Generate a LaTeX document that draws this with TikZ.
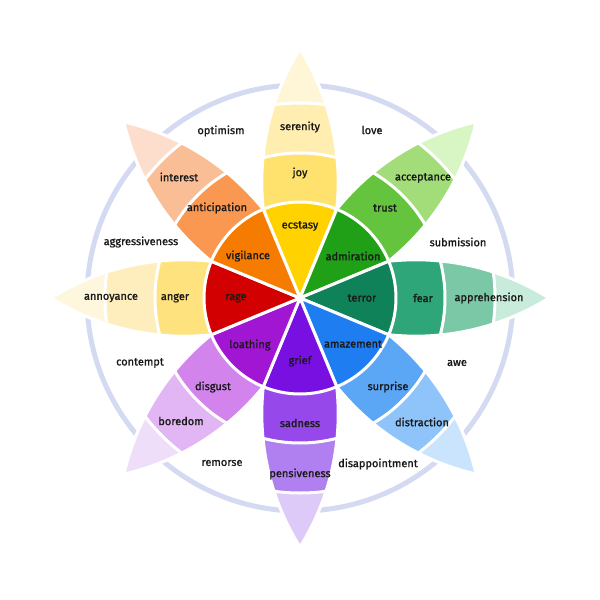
\documentclass[tikz,border=0pt]{standalone}
\usepackage{fontspec}
\setmainfont{Fira Sans}
\newfontfamily\emofont[FakeBold=1.2]{Fira Sans}
\usepackage{tikz}
\usepackage{color}

\definecolor{ring}{RGB}{212,218,241}
\definecolor{txt}{RGB}{25,25,25}
% joy
\definecolor{joyA}{RGB}{255,210,0}
\definecolor{joyB}{RGB}{255,226,110}
\definecolor{joyC}{RGB}{255,238,175}
\definecolor{joyD}{RGB}{255,246,215}
% trust
\definecolor{truA}{RGB}{32,160,22}
\definecolor{truB}{RGB}{100,196,62}
\definecolor{truC}{RGB}{162,221,122}
\definecolor{truD}{RGB}{216,245,196}
% fear
\definecolor{feaA}{RGB}{16,130,90}
\definecolor{feaB}{RGB}{46,166,121}
\definecolor{feaC}{RGB}{122,200,166}
\definecolor{feaD}{RGB}{200,235,220}
% surprise
\definecolor{surA}{RGB}{30,125,240}
\definecolor{surB}{RGB}{92,166,246}
\definecolor{surC}{RGB}{142,196,250}
\definecolor{surD}{RGB}{202,228,253}
% sadness
\definecolor{sadA}{RGB}{120,16,225}
\definecolor{sadB}{RGB}{150,72,235}
\definecolor{sadC}{RGB}{177,128,240}
\definecolor{sadD}{RGB}{221,202,248}
% disgust
\definecolor{disA}{RGB}{160,22,210}
\definecolor{disB}{RGB}{210,132,236}
\definecolor{disC}{RGB}{226,182,245}
\definecolor{disD}{RGB}{239,222,250}
% anger
\definecolor{angA}{RGB}{210,0,0}
\definecolor{angB}{RGB}{253,226,126}
\definecolor{angC}{RGB}{254,238,190}
\definecolor{angD}{RGB}{255,246,222}
% anticipation
\definecolor{antA}{RGB}{245,124,0}
\definecolor{antB}{RGB}{250,152,82}
\definecolor{antC}{RGB}{250,190,150}
\definecolor{antD}{RGB}{253,222,204}

\newcommand{\petalpath}{(0,0) -- (22.5:\ra) arc[start angle=96.2,end angle=58,radius=251.4]
  arc[start angle=-58,end angle=-96.2,radius=251.4] -- cycle}
% rotation, inner, middle, outer, tip
\newcommand{\petal}[5]{%
\begin{scope}[rotate=#1]
\begin{scope}
\clip \petalpath;
\fill[#5] (0,0) circle (\rt);
\fill[#4] (0,0) circle (\rc);
\fill[#3] (0,0) circle (\rb);
\fill[#2] (0,0) circle (\ra);
\draw[gap] (0,0) circle (\ra) (0,0) circle (\rb) (0,0) circle (\rc);
\end{scope}
\draw[gap] \petalpath;
\end{scope}}

\begin{document}
\begin{tikzpicture}
[x=1pt,y=1pt,gap/.style = {white, line width=3pt, line join=round},
emo/.style = {text=txt, inner sep=0pt, font=\emofont\fontsize{11}{13}\selectfont},]

\def\ra{96}
\def\rb{145}
\def\rc{195}
\def\rt{260}
\useasboundingbox (-300,-302) rectangle (300,298);
\fill[white] (-300,-302) rectangle (300,298);

\draw[ring, line width=5pt] (0,0) circle (213);

\petal{90}{joyA}{joyB}{joyC}{joyD}
\petal{45}{truA}{truB}{truC}{truD}
\petal{0}{feaA}{feaB}{feaC}{feaD}
\petal{-45}{surA}{surB}{surC}{surD}
\petal{-90}{sadA}{sadB}{sadC}{sadD}
\petal{-135}{disA}{disB}{disC}{disD}
\petal{180}{angA}{angB}{angC}{angD}
\petal{135}{antA}{antB}{antC}{antD}

% inner ring
\node (ecstasy) at (0,72) [emo] {ecstasy};
\node (admiration) at (53,42) [emo] {admiration};
\node (terror) at (62,0) [emo] {terror};
\node (amazement) at (53,-46) [emo] {amazement};
\node (grief) at (0,-63) [emo] {grief};
\node (loathing) at (-50,-47) [emo] {loathing};
\node (rage) at (-64,0) [emo] {rage};
\node (vigilance) at (-52,42) [emo] {vigilance};

% middle ring
\node (joy) at (0,125) [emo] {joy};
\node (trust) at (85,90) [emo] {trust};
\node (fear) at (123,0) [emo] {fear};
\node (surprise) at (88,-89) [emo] {surprise};
\node (sadness) at (0,-125) [emo] {sadness};
\node (disgust) at (-87,-89) [emo] {disgust};
\node (anger) at (-125,0) [emo] {anger};
\node (anticipation) at (-83,90) [emo] {anticipation};

% outer ring
\node (serenity) at (0,171) [emo] {serenity};
\node (acceptance) at (123,120) [emo] {acceptance};
\node (apprehension) at (189,0) [emo] {apprehension};
\node (distraction) at (122,-124) [emo] {distraction};
\node (pensiveness) at (0,-176) [emo] {pensiveness};
\node (boredom) at (-119,-123) [emo] {boredom};
\node (annoyance) at (-189,0) [emo] {annoyance};
\node (interest) at (-121,121) [emo] {interest};

% between petals
\node (optimism) at (-79,167) [emo] {optimism};
\node (love) at (72,168) [emo] {love};
\node (submission) at (158,56) [emo] {submission};
\node (awe) at (157,-65) [emo] {awe};
\node (disappointment) at (78,-166) [emo] {disappointment};
\node (remorse) at (-78,-165) [emo] {remorse};
\node (contempt) at (-160,-65) [emo] {contempt};
\node (aggressiveness) at (-159,56) [emo] {aggressiveness};

\end{tikzpicture}
\end{document}
